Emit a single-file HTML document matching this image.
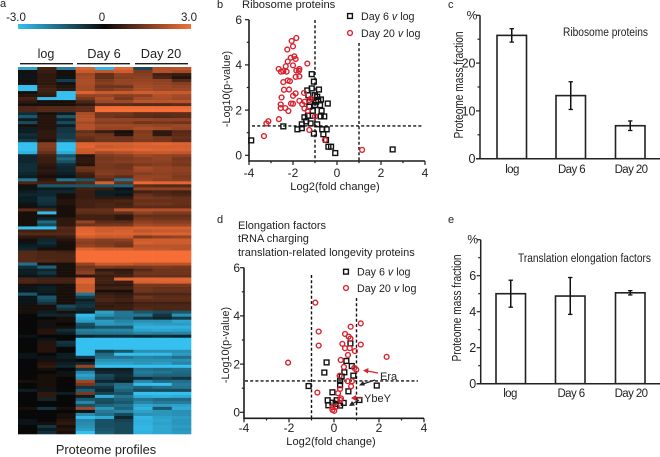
<!DOCTYPE html>
<html>
<head>
<meta charset="utf-8">
<style>
html,body{margin:0;padding:0;background:#fff;width:660px;height:457px;overflow:hidden}
svg{display:block}
text{font-family:"Liberation Sans",sans-serif;fill:#222}
</style>
</head>
<body>
<svg id="fig" xmlns="http://www.w3.org/2000/svg" width="660" height="457" viewBox="0 0 660 457">
<defs>
<linearGradient id="cbar"><stop offset="0" stop-color="#35c0f0"/><stop offset=".5" stop-color="#080808"/><stop offset="1" stop-color="#f4703a"/></linearGradient>
</defs>
<text x="0" y="7" font-size="11">a</text>
<text x="217" y="8" font-size="11">b</text>
<text x="448" y="8" font-size="11">c</text>
<text x="217" y="223" font-size="11">d</text>
<text x="448" y="223" font-size="11">e</text>
<rect x="18" y="24" width="173" height="5" fill="url(#cbar)"/>
<text x="16" y="21" font-size="11.5" text-anchor="middle">-3.0</text>
<text x="102" y="21" font-size="11.5" text-anchor="middle">0</text>
<text x="189" y="21" font-size="11.5" text-anchor="middle">3.0</text>
<text x="46" y="58" font-size="12.5" text-anchor="middle">log</text>
<text x="104" y="58" font-size="12.8" text-anchor="middle">Day 6</text>
<text x="161" y="58" font-size="12.8" text-anchor="middle">Day 20</text>
<rect x="20" y="63" width="53" height="1.4" fill="#1c1c1c"/>
<rect x="77" y="63" width="53" height="1.4" fill="#1c1c1c"/>
<rect x="135" y="63" width="53" height="1.4" fill="#1c1c1c"/>
<g id="heat"></g>
<text x="106" y="454" font-size="12.8" text-anchor="middle">Proteome profiles</text>

<text x="242" y="8" font-size="11.2">Ribosome proteins</text>
<g id="panelB"></g>

<text x="238" y="229" font-size="11">Elongation factors</text>
<text x="238" y="242" font-size="11">tRNA charging</text>
<text x="238" y="256" font-size="11">translation-related longevity proteins</text>
<g id="panelD"></g>
<text x="380" y="380" font-size="11">Era</text>
<text x="364" y="402" font-size="11">YbeY</text>
<g><line x1="378" y1="373" x2="367" y2="371" stroke="#d8232f" stroke-width="1.2"/><polygon points="363,370.5 368.5,368 368,373.5" fill="#d8232f"/></g>
<g><line x1="375" y1="380" x2="363" y2="384" stroke="#222" stroke-width="1.2"/><polygon points="359,385.5 363,381 365,385.5" fill="#222"/></g>
<g><line x1="362" y1="398" x2="355" y2="398" stroke="#d8232f" stroke-width="1.2"/><polygon points="351,398 356,395 356,401" fill="#d8232f"/></g>
<g><line x1="359" y1="400" x2="352" y2="404" stroke="#222" stroke-width="1.2"/><polygon points="349,406 352,401 355,405.5" fill="#222"/></g>

<g id="panelC"></g>
<text x="563" y="36" font-size="11.5" textLength="85" lengthAdjust="spacingAndGlyphs">Ribosome proteins</text>
<g id="panelE"></g>
<text x="518" y="262" font-size="11.5" textLength="133" lengthAdjust="spacingAndGlyphs">Translation elongation factors</text>
</svg>
<script>
const heatRows = [
[-2.3,.5,-1.7,2.5,-2.7,2.6,-.8,1.9,2.0],
[.1,.4,.1,2.2,2.1,2.3,1.2,1.9,1.7],
[-.1,.3,.1,1.6,.9,1.4,1.3,.5,.4],
[-.1,.3,-.1,1.7,.9,1.3,1.4,.6,.2],
[.1,.3,-.6,1.8,1.2,1.5,1.5,1.4,.7],
[-.1,.3,-.1,1.8,1.3,1.5,1.6,1.5,1.3],
[-3,.4,.2,1.7,1.0,1.0,1.7,1.6,1.5],
[-3,.5,.3,1.7,1.2,1.4,1.8,1.6,1.6],
[.1,.4,-3,2.5,2.2,2.2,2.3,2.2,2.2],
[.2,.3,-3,1.5,1.5,1.3,1.4,1.9,1.7],
[.5,-2.8,-3,1.1,1.8,1.1,1.7,1.8,1.6],
[.3,.1,.1,.6,1.6,1.6,2.0,2.0,2.0],
[.1,.1,.1,.3,.8,.8,.7,.7,.8],
[.6,.7,.7,.8,2.8,2.8,2.8,2.8,2.8],
[.6,.7,.7,.8,2.9,2.9,2.9,2.9,2.9],
[-.4,.1,-.2,1.8,1,1,.8,.8,.8],
[-1,.2,-1,1.9,1,.9,.8,.7,.8],
[-.2,.2,-.3,2,1.5,1.5,1.5,1.4,1.4],
[-.8,.2,-.8,1.7,1.3,1.3,1.0,1.1,1.0],
[.1,.2,-.2,1.9,1.6,1.6,1.6,1.5,1.6],
[-.2,.2,-.5,1.9,1.5,1.5,1.8,1.7,1.5],
[-.2,.3,-.5,.9,.4,.1,1.2,.3,.7],
[-.4,.3,-.6,1.1,1.0,.2,1.3,.3,.8],
[-.3,.3,-.6,.9,1.1,1.0,1.3,1.1,.9],
[-.6,.2,-.9,.8,1,1,1.2,1.1,.8],
[-3,1.3,-3,2.5,2.4,2.4,2.5,2.6,2.5],
[-3,1.3,-3,2.6,2.2,2.3,2.4,2.4,2.4],
[-3,1.2,-3,2.3,2.5,2.5,2.6,2.5,2.5],
[-2.6,.9,-2.5,2.2,1.7,1.9,2.1,2.2,2.1],
[-.3,.5,-.9,.2,1.2,1.3,1.6,1.5,1.4],
[-.3,.4,-1.3,.3,1.1,1.2,1.3,1.5,1.1],
[-.3,.4,-.9,.3,1.2,1.3,1.4,1.4,1.2],
[-.4,.3,-.4,.2,1.1,1.0,1.2,1.3,1.1],
[-.4,.2,-.3,1.0,1.1,1.0,1.7,1.5,1.4],
[-.4,.3,-.3,.9,1.2,1.2,1.6,1.5,1.4],
[-.3,.2,-.2,.5,1.3,1.2,1.3,1.4,1.3],
[-.2,.1,-.1,.4,1,.8,1.5,1.5,1.2],
[-1.5,.3,-1.5,-1,.8,-1.5,1.6,1.4,1.3],
[.6,.5,.5,.7,2.4,.9,2.7,2.6,2.6],
[.1,-1,-1,-1,-1,-1.2,.8,.7,.7],
[-.1,-.2,-.2,.5,.4,-.1,1.4,1.4,1.4],
[-.2,-.3,-.3,.4,-.2,-.2,.5,.6,.5],
[-.3,-.3,.1,.4,-.2,-.1,.9,.7,.6],
[-.2,-.5,.1,.4,.3,.3,1.1,1,.9],
[-.2,-.5,.2,.5,.5,.6,.9,.9,.9],
[-.1,-.4,.2,.5,.6,.5,1.0,1.0,.9],
[.1,-.2,.1,.5,.6,.6,.8,.8,.8],
[.8,.6,.1,.9,.9,2.0,1.9,1.9,1.9],
[.1,-2.8,.1,.8,.8,.9,1.4,1.2,1.2],
[.1,.1,.1,.5,.5,.3,.9,.9,.9],
[.1,-.3,.3,.5,.5,.3,1.1,1.0,1.0],
[.1,-1.3,.3,1.5,.8,.8,1.4,1.3,1.3],
[.1,-.8,.3,1.0,1.1,1.1,1.7,1.6,1.6],
[-3,-3,.7,2.5,2.3,2.3,2.4,2.4,2.4],
[.5,.5,.6,2.6,2.3,2.4,2.1,2.2,2.2],
[.7,.7,.7,2.7,2.5,2.5,2.4,2.5,2.5],
[.3,.3,.4,2.3,2.2,2.2,1.2,1.4,1.5],
[.1,-.3,.2,1.5,1.3,1.4,2.3,2.3,2.3],
[-.1,-.4,.1,1.3,1.2,1.1,2.4,2.3,2.3],
[-.2,-.2,.1,1.5,1.3,1.0,2,2,2],
[-.3,.1,.1,2.5,2.3,2.3,2.1,2.1,2],
[.7,.6,.5,2.9,2.9,2.9,2.9,2.9,2.9],
[.7,.6,.6,2.9,2.9,2.9,2.9,2.9,2.9],
[.7,.6,.6,2.9,2.9,2.9,2.9,2.9,2.9],
[.7,.7,.6,2.9,2.9,2.9,2.9,2.9,2.9],
[-1.4,.1,.1,1.5,2.2,2.2,2,2,2],
[-.4,-1.2,.1,1,1.2,1.1,1.1,1.2,1.1],
[-.2,-.3,.1,1.2,.3,.3,.7,1,1],
[-.2,-.5,.1,1.4,.6,.4,1,1,1],
[-.1,-.2,.1,.3,.4,.5,.9,.9,.9],
[.6,.5,.5,2.5,.5,2.6,2.6,2.6,2.6],
[.6,.5,.5,2.6,.5,.4,2.4,2.5,2.5],
[.1,-.1,.1,2.2,.3,.3,1.1,1.1,1.1],
[-.1,-.2,.1,2.2,.5,.5,1.0,.9,.9],
[-.1,-.2,.1,2.3,.1,.1,1,.9,.9],
[-1,-.1,.1,-1.5,.4,.3,.6,.6,.6],
[-.1,-1,.1,-.6,.5,.4,1,.8,.8],
[-.1,-.8,.1,-.2,.6,.5,.8,.8,.8],
[-.1,-.5,.1,-.4,.4,.3,.5,.5,.5],
[.1,.1,-.8,-.5,.3,.4,.6,.6,.6],
[.1,.1,-.5,-.3,.4,.4,.7,.6,.6],
[.1,-.2,.1,-.2,-2.3,-1.5,-1,-.8,-1],
[0,-.3,-.3,-2.8,-2.0,-1.5,-1.5,-.5,-2],
[0,0,.1,-2.5,-1.2,-1.4,-.5,-.3,-.6],
[0,.1,.1,-2.2,-2.2,-1.8,-2,-2,-2.4],
[0,-.1,0,-.9,-2.1,-2,-2.3,-2.2,-2.2],
[0,.1,.1,-.7,-1,-1,-2.6,-2.6,-2.6],
[0,.2,-.4,-1.7,-1.8,-1.8,-2.3,-2.4,-2.3],
[0,.2,-.2,-1.5,-1.5,-1.5,-1.8,-1.7,-1.8],
[-.1,0,0,-.3,-.4,-.4,-.3,-.4,-.3],
[0,-.1,0,-3,-3,-3,-3,-3,-3],
[0,.2,-.5,-3,-3,-3,-3,-3,-3],
[0,.2,-.4,-3,-3,-3,-3,-3,-3],
[0,.2,0,-3,-3,-3,-3,-3,-3],
[0,.2,0,-2.9,-.6,-1,-2,-2,-2],
[-.1,0,-.2,-3,-1.3,-3,-2.8,-2.8,-2.2],
[-.1,-.1,-.2,-.5,-1.5,-1.5,-1.8,-1.7,-1.4],
[0,.1,-.1,0,-2,-2,-2,-2,-2],
[0,.2,-.2,-.3,-2.3,-2.3,-2.1,-2.2,-1.8],
[0,.3,-.3,1.5,-3,-3,-3,-3,-3],
[0,.1,0,-.5,-.2,-.2,-1.4,-1.3,-1.4],
[0,0,-.1,-1.8,-.3,-.3,-1.6,-1.5,-1.3],
[0,.1,.1,-2.3,-.8,-.4,-1.4,-1.2,-1.2],
[0,.1,0,-2,-.7,-.3,-.4,-.7,-.5],
[.1,.1,0,1.6,-.3,-.2,-1.8,-1.3,-1.4],
[0,.1,0,1.1,-.9,-1.4,-2.8,-3,-1.6],
[0,.1,0,-.5,-.5,-1.5,-1.2,-1.4,-1.5],
[-.2,-.1,0,-1.1,-.3,-1.2,-.8,-.8,-.8],
[0,.3,-.2,1.2,-.7,-.9,-3,-3,-3],
[0,.3,0,-.2,-2.5,-1.5,-2.5,-2.6,-2.5],
[0,-.3,0,-1,-.9,-1.2,-1.5,-1.3,-1.3],
[0,0,0,-1.8,-.8,-1,-1.8,-1.6,-1.6],
[0,0,0,-.9,-1.2,-1.4,-2.4,-2.2,-2.3],
[.1,-.5,.1,1.6,-2.1,-1.2,-2.6,-1,-2.5],
[0,0,0,-.1,-1.6,-1.8,-2.3,-2.1,-2],
[0,0,.1,-1.9,-1.4,-.8,-2,-2.1,-2],
[0,0,.1,-2.8,-2.5,-.3,-2.7,-2.3,-2.2],
[-.1,0,.2,-1.8,-.9,-.7,-2.6,-2.4,-2.1],
[-.1,.1,.3,-1.9,-.9,-.8,-2.6,-2.3,-2.1],
[0,-.5,.1,-2,-.9,-.8,-2.7,-2.4,-2.2],
[0,-.2,.2,-2.2,-1,-.8,-2.7,-2.4,-2.1],
[0,-.4,.1,-2.9,-1.1,-.8,-2.6,-2.4,-2.2]
];

const volcanoXTicks = [-4,-2,0,2,4];
const volcanoYTicks = [0,2,4,6];

const riboDay6Fold = [-3.9,-2.44,-1.8,-1.6,-1.6,-1.4,-1.48,-1.32,-1.2,-1.1,-1.1,-1.26,-1.23,-1.35,-1.15,-1.15,-1.05,-1,-.9,-.95,-1,-.82,-.73,-.85,-.77,-.42,-.7,-.74,-.58,-1.05,-.9,-.67,-.47,-.62,-.5,-.39,-.27,-.08,2.53,-1.3];
const riboDay6P = [.66,1.28,1.15,1.2,1.37,1.5,1.68,1.75,1.41,1.75,1.97,2.15,2.37,2.87,2.96,3.59,3.26,2.66,2.59,2.37,2.22,2.91,2.47,2.44,2.22,2.29,1.97,1.72,1.72,.96,1.37,1.15,1.15,.93,.68,.38,.38,.1,.26,2.66];
const riboDay20Fold = [-1.85,-2.06,-2,-2.26,-1.94,-2.1,-1.88,-2.24,-1.35,-2,-2.33,-2.65,-2.55,-2.44,-2.29,-1.85,-1.71,-1.73,-1.88,-1.71,-2.24,-2.14,-2.44,-2.41,-2.18,-1.88,-2,-1.5,-2.52,-1.71,-1.47,-1.27,-1.18,-2.09,-2,-1.58,-2.56,-2.56,-2.35,-2.21,-1.48,-1.33,-2.64,-3.12,-3.21,-3.32,-1,-1.26,-.55,1.14];
const riboDay20P = [5.19,5.06,4.82,4.68,4.38,4.32,4.26,4.15,4.06,3.98,3.94,3.82,3.7,3.72,3.7,3.75,3.82,3.74,3.47,3.49,3.31,3.28,3.24,2.9,2.91,2.74,2.63,2.76,2.56,2.41,2.37,2.44,2.51,2.29,2.28,2.26,2.25,2.09,2.09,1.96,2.07,1.97,1.6,1.51,1.41,.85,1.72,1.12,.68,.24];

const elongDay6Fold = [-1.13,-.33,-.43,.55,.79,.46,.86,.73,1.9,1.13,.34,.27,.27,-.07,.64,-.28,.12,.43,-.25,-.07,.27,.07];
const elongDay6P = [1.09,2.07,1.65,2.13,1.92,1.66,1.52,2.86,1.11,.51,1.48,1.3,1.13,.83,.87,.5,.5,.39,.29,.4,.28,.35];
const elongDay20Fold = [-.83,-.68,-.68,-2.04,-.74,.74,1.19,.49,.65,.73,.37,1.19,.49,.7,.93,.62,2.34,.3,.44,.9,.99,.25,.61,.8,.76,.27,.18,.31,.28,-.07,.12,.01,-.07];
const elongDay20P = [4.55,3.35,2.77,2.06,.82,3.55,3.69,3.25,3.14,3.06,2.84,2.81,2.66,2.66,2.54,2.38,2.3,2.17,1.88,1.84,1.77,1.52,1.29,1.29,1.08,.97,.79,.58,.51,.21,.24,.06,.1];

const barCategories = ['log','Day 6','Day 20'];
const riboMass = [25.8,13.2,6.9];
const riboMassErrLow = [24.4,10.3,5.9];
const riboMassErrHigh = [27.2,16.1,7.9];
const riboTickLabels = [0,10,20];
const riboMinorTicks = [5,15,25,30];
const elongMass = [5.0,4.87,5.05];
const elongMassErrLow = [4.25,3.85,4.93];
const elongMassErrHigh = [5.75,5.9,5.17];
const elongTickLabels = [0,2,4,6];
const elongMinorTicks = [1,3,5,7,8];

const NS = 'http://www.w3.org/2000/svg';
function mk(tag, attrs, parent, txt) {
  const e = document.createElementNS(NS, tag);
  for (const k in attrs) e.setAttribute(k, attrs[k]);
  if (txt !== undefined) e.textContent = txt;
  parent.appendChild(e);
  return e;
}
function heatColor(v) {
  const neg = [53,192,240], zero = [8,8,8], pos = [246,110,54];
  const t = Math.min(1, Math.pow(Math.abs(v) / 2.9, 0.8));
  const end = v < 0 ? neg : pos;
  return 'rgb(' + zero.map((z, i) => Math.round(z + (end[i] - z) * t)).join(',') + ')';
}
function drawHeatmap() {
  const g = document.getElementById('heat');
  const x0 = 18, w = 173 / 9, y0 = 67, h = 367 / heatRows.length;
  heatRows.forEach((row, r) => {
    row.forEach((v, c) => {
      const cell = mk('rect', {x: x0 + c * w, y: y0 + r * h, width: w + .3, height: h + .3, fill: heatColor(v)}, g);
      
      
    });
  });
}
function drawVolcano(id, o) {
  const g = document.getElementById(id);
  const X = v => o.x0 + o.ux * v, Y = v => o.y0 - o.uy * v;
  const axisColor = '#1c1c1c';
  function dash(x1, y1, x2, y2, name) {
    const l = mk('line', {x1, y1, x2, y2, stroke: '#111', 'stroke-width': 1.4, 'stroke-dasharray': '3 2.2'}, g);
    
    
  }
  dash(X(-1), o.dashLeftTop, X(-1), o.axisY, 'threshold-fold-down');
  dash(X(1), o.dashRightTop, X(1), o.axisY, 'threshold-fold-up');
  dash(o.dashHx1, Y(1.3), o.dashHx2, Y(1.3), 'threshold-p-value');

  const yAxis = mk('line', {x1: X(-4), y1: Y(6), x2: X(-4), y2: o.axisY + .8, stroke: axisColor, 'stroke-width': 1.6}, g);
  
  
  const xAxis = mk('line', {x1: X(-4), y1: o.axisY, x2: X(4), y2: o.axisY, stroke: axisColor, 'stroke-width': 1.6}, g);
  
  

  for (let v = -4; v <= 4; v++) {
    const major = volcanoXTicks.includes(v);
    const t = mk('line', {x1: X(v), y1: o.axisY, x2: X(v), y2: o.axisY + (major ? 4 : 2.2), stroke: axisColor, 'stroke-width': 1.2}, g);
    
    
  }
  for (let v = 0; v <= 6; v++) {
    const major = volcanoYTicks.includes(v);
    const t = mk('line', {x1: X(-4), y1: Y(v), x2: X(-4) - (major ? 4 : 2.2), y2: Y(v), stroke: axisColor, 'stroke-width': 1.2}, g);
    
    
  }
  volcanoXTicks.forEach(v => {
    const t = mk('text', {x: X(v), y: o.xTickY, 'font-size': 12, 'text-anchor': 'middle'}, g, v);
    
    
  });
  volcanoYTicks.forEach(v => {
    const t = mk('text', {x: o.yTickX, y: Y(v) + 4.2, 'font-size': 12, 'text-anchor': 'end'}, g, v);
    
    
  });
  const xt = mk('text', {x: o.xTitleX, y: o.xTitleY, 'font-size': 11.1, 'text-anchor': 'middle'}, g, 'Log2(fold change)');
  
  
  const yt = mk('text', {transform: 'translate(' + o.yTitleX + ',' + o.yTitleY + ') rotate(-90)', 'font-size': 10.8, 'text-anchor': 'middle'}, g, '-Log10(p-value)');
  
  

  o.day6X.forEach((v, i) => {
    const m = mk('rect', {x: X(v) - 2.4, y: Y(o.day6Y[i]) - 2.4, width: 4.8, height: 4.8, fill: 'none', stroke: '#111', 'stroke-width': 1.4}, g);
    
    
  });
  o.day20X.forEach((v, i) => {
    const m = mk('circle', {cx: X(v), cy: Y(o.day20Y[i]), r: 2.4, fill: 'none', stroke: '#d8232f', 'stroke-width': 1.4}, g);
    
    
  });

  const s = mk('rect', {x: o.legX - 2.4, y: o.legY1 - 2.4, width: 4.8, height: 4.8, fill: 'none', stroke: '#111', 'stroke-width': 1.4}, g);
  
  
  const c = mk('circle', {cx: o.legX, cy: o.legY2, r: 2.4, fill: 'none', stroke: '#d8232f', 'stroke-width': 1.4}, g);
  
  
  [[o.legY1, 'Day 6 ', 'legend-label-day-6'], [o.legY2, 'Day 20 ', 'legend-label-day-20']].forEach(d => {
    const t = mk('text', {x: o.legX + 11, y: d[0] + 4, 'font-size': 10.7}, g);
    
    
    mk('tspan', {}, t, d[1]);
    mk('tspan', {'font-style': 'italic'}, t, 'v');
    mk('tspan', {}, t, ' log');
  });
}
function drawBars(id, o) {
  const g = document.getElementById(id);
  const Y = v => o.y0 - o.u * v;
  const color = '#222';
  const yAxis = mk('line', {x1: o.ax, y1: Y(o.top), x2: o.ax, y2: o.y0, stroke: color, 'stroke-width': 1.5}, g);
  
  
  o.vals.forEach((v, i) => {
    const b = mk('rect', {x: o.barX[i], y: Y(v), width: 29.5, height: o.y0 - Y(v), fill: '#fff', stroke: color, 'stroke-width': 1.6}, g);
    
    
    const cx = o.barX[i] + 14.75;
    const stem = mk('line', {x1: cx, y1: Y(o.hi[i]), x2: cx, y2: Y(o.lo[i]), stroke: '#111', 'stroke-width': 1.5}, g);
    
    
    [o.hi[i], o.lo[i]].forEach(e => {
      const cap = mk('line', {x1: cx - 2.2, y1: Y(e), x2: cx + 2.2, y2: Y(e), stroke: '#111', 'stroke-width': 1.3}, g);
      
      
    });
    const lab = mk('text', {x: o.labX[i], y: o.labY, 'font-size': 11.5, 'text-anchor': 'middle', 'letter-spacing': '-.6'}, g, barCategories[i]);
    
    
  });
  const xAxis = mk('line', {x1: o.ax - 4, y1: o.y0, x2: 660, y2: o.y0, stroke: color, 'stroke-width': 1.5}, g);
  
  
  o.ticks.forEach(v => {
    const t = mk('line', {x1: o.ax - 4, y1: Y(v), x2: o.ax, y2: Y(v), stroke: color, 'stroke-width': 1.2}, g);
    
    
    const l = mk('text', {x: o.ax - 4.5, y: Y(v) + 4.4, 'font-size': 12.5, 'text-anchor': 'end'}, g, v);
    
    
  });
  o.minor.forEach(v => {
    const t = mk('line', {x1: o.ax - (v === o.top ? 4 : 2.5), y1: Y(v), x2: o.ax, y2: Y(v), stroke: color, 'stroke-width': 1.2}, g);
    
    
  });
  const pct = mk('text', {x: o.ax - 8, y: Y(o.top) + 4, 'font-size': 12, 'text-anchor': 'middle'}, g, '%');
  
  
  const yt = mk('text', {transform: 'translate(' + o.titleX + ',' + o.titleY + ') rotate(-90)', 'font-size': 12.5, 'text-anchor': 'middle', textLength: 107, lengthAdjust: 'spacingAndGlyphs'}, g, 'Proteome mass fraction');
  
  
}

drawHeatmap();
drawVolcano('panelB', {
  x0: 337, ux: 22, y0: 155.3, uy: 22.6, axisY: 161,
  dashLeftTop: 20, dashRightTop: 43, dashHx1: 252, dashHx2: 423,
  xTickY: 177, yTickX: 242, xTitleX: 335, xTitleY: 190, yTitleX: 230, yTitleY: 89,
  legX: 350, legY1: 16, legY2: 33,
  day6X: riboDay6Fold, day6Y: riboDay6P, day20X: riboDay20Fold, day20Y: riboDay20P
});
drawVolcano('panelD', {
  x0: 334, ux: 22.5, y0: 412.3, uy: 24.1, axisY: 418.3,
  dashLeftTop: 275, dashRightTop: 298, dashHx1: 245, dashHx2: 418,
  xTickY: 432, yTickX: 240, xTitleX: 331, xTitleY: 445, yTitleX: 229, yTitleY: 345,
  legX: 346, legY1: 271.7, legY2: 288,
  day6X: elongDay6Fold, day6Y: elongDay6P, day20X: elongDay20Fold, day20Y: elongDay20P
});
drawBars('panelC', {
  ax: 480, y0: 158.7, u: 4.78, top: 30, vals: riboMass, lo: riboMassErrLow, hi: riboMassErrHigh,
  barX: [497, 556, 615.5], labX: [512, 571.5, 631], labY: 173,
  ticks: riboTickLabels, minor: riboMinorTicks, titleX: 463, titleY: 85
});
drawBars('panelE', {
  ax: 480.7, y0: 383.7, u: 18, top: 8, vals: elongMass, lo: elongMassErrLow, hi: elongMassErrHigh,
  barX: [496, 555.5, 615.5], labX: [510, 571, 631], labY: 397,
  ticks: elongTickLabels, minor: elongMinorTicks, titleX: 461, titleY: 308
});
</script>
</body>
</html>
